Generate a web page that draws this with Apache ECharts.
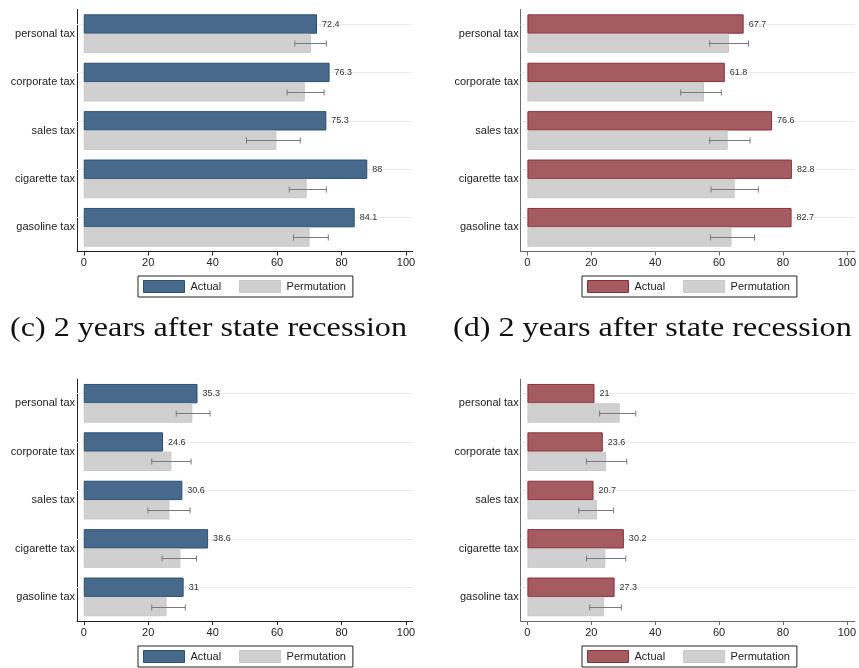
<!DOCTYPE html>
<html>
<head>
<meta charset="utf-8">
<script src="https://cdn.jsdelivr.net/npm/echarts@6/dist/echarts.min.js"></script>
<style>
  html, body { margin: 0; padding: 0; background: #fff; }
  #chart { width: 859px; height: 668px; }
</style>
</head>
<body>
<div id="chart"></div>
<script>
// Tax categories, top to bottom
const categories = ['personal tax', 'corporate tax', 'sales tax', 'cigarette tax', 'gasoline tax'];
const xTicks = [0, 20, 40, 60, 80, 100];

// Panel A (top left)
const aActual = [72.4, 76.3, 75.3, 88, 84.1];
const aPerm   = [70.5, 68.6, 59.8, 69.2, 70.1];
const aLow    = [65.5, 63.1, 50.5, 63.8, 65.1];
const aHigh   = [75.3, 74.6, 67.2, 75.3, 75.9];

// Panel B (top right)
const bActual = [67.7, 61.8, 76.6, 82.8, 82.7];
const bPerm   = [63.1, 55.3, 62.7, 64.9, 63.9];
const bLow    = [57.1, 48.0, 57.1, 57.5, 57.3];
const bHigh   = [69.2, 60.7, 69.7, 72.3, 71.1];

// Panel C (bottom left): 2 years after state recession
const cActual = [35.3, 24.6, 30.6, 38.6, 31];
const cPerm   = [33.7, 27.2, 26.6, 30.0, 25.7];
const cLow    = [28.7, 21.1, 19.9, 24.3, 21.1];
const cHigh   = [39.2, 33.3, 33.0, 35.0, 31.5];

// Panel D (bottom right): 2 years after state recession
const dActual = [21, 23.6, 20.7, 30.2, 27.3];
const dPerm   = [28.9, 24.6, 21.8, 24.4, 24.0];
const dLow    = [22.6, 18.5, 16.1, 18.5, 19.5];
const dHigh   = [33.9, 31.1, 27.0, 30.8, 29.4];

const captionC = '(c) 2 years after state recession';
const captionD = '(d) 2 years after state recession';
const legendNames = ['Actual', 'Permutation'];

const BLUE = { color: '#476a8c', borderColor: '#2b4f72', borderWidth: 1 };
const RED  = { color: '#a55c61', borderColor: '#8c2e3a', borderWidth: 1 };
const GRAY = { color: '#d0d0d0', borderColor: '#c8c8c8', borderWidth: 1 };

const panels = [
  { actual: aActual, perm: aPerm, low: aLow, high: aHigh, style: BLUE, left: 77,    width: 335.7, top: 9.5,   max: 102.1, axisColor: '#222', legendLeft: 138, legendTop: 276 },
  { actual: bActual, perm: bPerm, low: bLow, high: bHigh, style: RED,  left: 520.7, width: 337.3, top: 9.5,   max: 102.5, axisColor: '#6a6a6a', legendLeft: 582, legendTop: 276 },
  { actual: cActual, perm: cPerm, low: cLow, high: cHigh, style: BLUE, left: 77,    width: 335.7, top: 379.1, max: 102.1, axisColor: '#222', legendLeft: 138, legendTop: 646 },
  { actual: dActual, perm: dPerm, low: dLow, high: dHigh, style: RED,  left: 520.7, width: 337.3, top: 379.1, max: 102.5, axisColor: '#6a6a6a', legendLeft: 582, legendTop: 646 }
];

const FONT = 'Liberation Sans, Arial, sans-serif';
const grid = [], xAxis = [], yAxis = [], series = [], legend = [];

panels.forEach((p, i) => {
  grid.push({ left: p.left, top: p.top, width: p.width, height: 242, containLabel: false });
  xAxis.push({
    type: 'value', gridIndex: i, min: -2.1, max: p.max,
    axisLine: { show: true, onZero: false, lineStyle: { color: p.axisColor, width: 1 } },
    axisTick: { show: true, length: 4, customValues: xTicks, lineStyle: { color: p.axisColor } },
    axisLabel: { customValues: xTicks, fontSize: 11, color: '#222', fontFamily: FONT, margin: 6 },
    splitLine: { show: false }
  });
  yAxis.push({
    type: 'category', gridIndex: i, data: categories, inverse: true,
    axisLine: { show: true, onZero: false, lineStyle: { color: p.axisColor, width: 1 } },
    axisTick: { show: false },
    axisLabel: { fontSize: 11, color: '#222', fontFamily: FONT, margin: 2 },
    splitLine: { show: false }
  });
  series.push({
    name: 'Actual', type: 'bar', xAxisIndex: i, yAxisIndex: i, z: 3,
    barGap: 0, barCategoryGap: '20%',
    itemStyle: p.style,
    label: { show: true, position: 'right', distance: 5, fontSize: 9, color: '#333', fontFamily: FONT },
    data: p.actual,
    markLine: {
      silent: true, symbol: 'none', z: 1, animation: false,
      label: { show: false },
      lineStyle: { color: '#e4edf0', width: 1, type: 'solid' },
      data: categories.map(c => ({ yAxis: c }))
    }
  });
  series.push({
    name: 'Permutation', type: 'bar', xAxisIndex: i, yAxisIndex: i, z: 3,
    barGap: 0, barCategoryGap: '20%',
    itemStyle: GRAY,
    data: p.perm
  });
  series.push({
    type: 'custom', xAxisIndex: i, yAxisIndex: i, z: 4, silent: true,
    encode: { x: [1, 2], y: 0 },
    data: categories.map((c, k) => [k, p.low[k], p.high[k]]),
    renderItem: function (params, api) {
      const k = api.value(0);
      const band = api.size([0, 1])[1];
      const a = api.coord([api.value(1), k]);
      const b = api.coord([api.value(2), k]);
      const y = Math.round(a[1] + band * 0.2) + 0.5;
      const cap = 3;
      const st = { stroke: '#7a7a7a', lineWidth: 1 };
      return {
        type: 'group',
        children: [
          { type: 'line', shape: { x1: a[0], y1: y, x2: b[0], y2: y }, style: st },
          { type: 'line', shape: { x1: a[0], y1: y - cap, x2: a[0], y2: y + cap }, style: st },
          { type: 'line', shape: { x1: b[0], y1: y - cap, x2: b[0], y2: y + cap }, style: st }
        ]
      };
    }
  });
  legend.push({
    left: p.legendLeft, top: p.legendTop, orient: 'horizontal',
    itemWidth: 41, itemHeight: 12, itemGap: 18,
    padding: [4, 7, 4, 5],
    borderColor: '#222', borderWidth: 1,
    selectedMode: false,
    textStyle: { fontSize: 11, color: '#222', fontFamily: FONT, padding: [0, 0, 0, 1] },
    data: [
      { name: legendNames[0], icon: 'rect', itemStyle: p.style },
      { name: legendNames[1], icon: 'rect', itemStyle: GRAY }
    ]
  });
});

const chart = echarts.init(document.getElementById('chart'), null, { renderer: 'canvas' });
chart.setOption({
  animation: false,
  backgroundColor: '#fff',
  grid, xAxis, yAxis, series, legend,
  graphic: [
    { type: 'text', x: 10, y: 315, scaleX: 1.19,
      style: { text: captionC, fontSize: 27, fontFamily: 'Liberation Serif, serif', fill: '#111' } },
    { type: 'text', x: 453, y: 315, scaleX: 1.19,
      style: { text: captionD, fontSize: 27, fontFamily: 'Liberation Serif, serif', fill: '#111' } }
  ]
});
</script>
</body>
</html>
